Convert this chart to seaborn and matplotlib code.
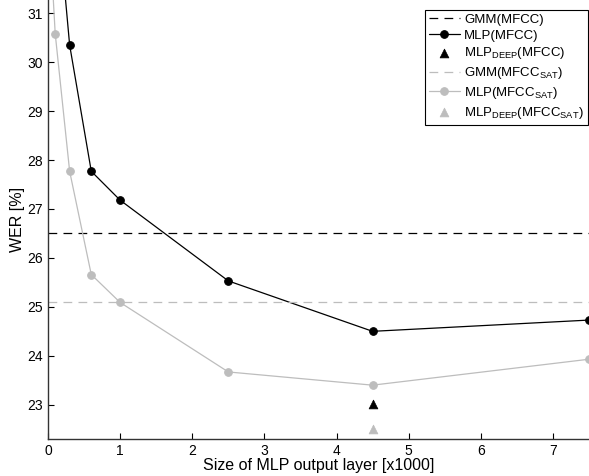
import matplotlib
matplotlib.use("Agg")
import matplotlib.pyplot as plt
import seaborn as sns
import pandas as pd

sns.set_style("ticks")
plt.rcParams['font.family'] = ['Liberation Sans', 'DejaVu Sans']
plt.rcParams['mathtext.fontset'] = 'custom'
plt.rcParams['mathtext.rm'] = 'Liberation Sans'
plt.rcParams['xtick.direction'] = 'in'
plt.rcParams['ytick.direction'] = 'in'
plt.rcParams['text.color'] = 'black'
plt.rcParams['axes.labelcolor'] = 'black'

# donnees
taille_mfcc = [0.1, 0.3, 0.6, 1.0, 2.5, 4.5, 7.5]
wer_mlp_mfcc = [33.6, 30.35, 27.77, 27.18, 25.53, 24.5, 24.73]
taille_sat = [0.05, 0.1, 0.3, 0.6, 1.0, 2.5, 4.5, 7.5]
wer_mlp_sat = [31.9, 30.58, 27.77, 25.66, 25.09, 23.67, 23.4, 23.93]
wer_gmm_mfcc = 26.5
wer_gmm_sat = 25.1
taille_deep = [4.5]
wer_deep_mfcc = [23.02]
wer_deep_sat = [22.5]

noir = 'black'
gris = '#bdbdbd'

df_mfcc = pd.DataFrame({'taille': taille_mfcc, 'wer': wer_mlp_mfcc})
df_sat = pd.DataFrame({'taille': taille_sat, 'wer': wer_mlp_sat})

fig = plt.figure(figsize=(5.89, 4.76), dpi=100)
ax = fig.add_axes([48 / 589, 37 / 476, 541 / 589, 439 / 476])

ax.axhline(wer_gmm_mfcc, color=noir, ls=(0, (7, 5)), lw=0.9, label='GMM(MFCC)')
sns.lineplot(data=df_mfcc, x='taille', y='wer', ax=ax, color=noir, lw=0.9,
             marker='o', markersize=5.5, markeredgecolor=noir, label='MLP(MFCC)')
sns.scatterplot(x=taille_deep, y=wer_deep_mfcc, ax=ax, color=noir, marker='^',
                s=40, edgecolor=noir, label=r'MLP$_\mathrm{DEEP}$(MFCC)', zorder=5)
ax.axhline(wer_gmm_sat, color=gris, ls=(0, (7, 5)), lw=0.9, label=r'GMM(MFCC$_\mathrm{SAT}$)')
sns.lineplot(data=df_sat, x='taille', y='wer', ax=ax, color=gris, lw=0.9,
             marker='o', markersize=5.5, markeredgecolor=gris, label=r'MLP(MFCC$_\mathrm{SAT}$)')
sns.scatterplot(x=taille_deep, y=wer_deep_sat, ax=ax, color=gris, marker='^',
                s=40, edgecolor=gris, label=r'MLP$_\mathrm{DEEP}$(MFCC$_\mathrm{SAT}$)', zorder=5)

ax.set_xlim(0, 7.5)
ax.set_ylim(22.3, 31.27)
ax.set_xticks(range(0, 8))
ax.set_yticks(range(23, 32))
ax.tick_params(labelsize=10, length=4, width=0.8, colors='black')
ax.set_xlabel("Size of MLP output layer [x1000]", fontsize=11.5, labelpad=0)
ax.set_ylabel("WER [%]", fontsize=11.5, labelpad=2)
sns.despine(ax=ax)
for s in ['left', 'bottom']:
    ax.spines[s].set_linewidth(1.0)
    ax.spines[s].set_color('#333333')

leg = ax.legend(loc='upper right', bbox_to_anchor=(0.998, 0.978), borderaxespad=0,
                fancybox=False, edgecolor='black', fontsize=9.5, framealpha=1,
                handlelength=2.4, handletextpad=0.3, labelspacing=0.28, borderpad=0.3)
leg.get_frame().set_linewidth(0.8)

fig.savefig('out.png', dpi=100)
